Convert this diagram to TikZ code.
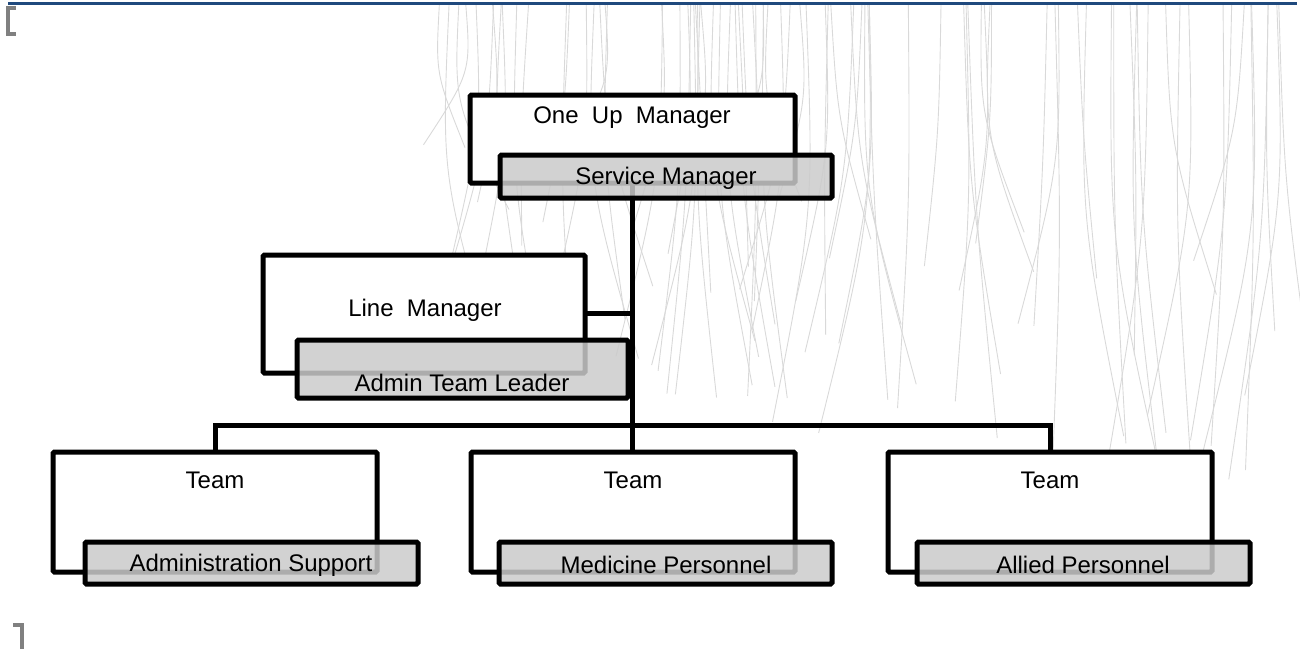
\documentclass[tikz,border=0pt]{standalone}
\usepackage{fontspec}
\setmainfont{Liberation Sans}
\definecolor{topblue}{HTML}{1F497D}
\definecolor{grayfill}{RGB}{203,203,203}
\definecolor{bracketgray}{RGB}{128,128,128}
\begin{document}
\begin{tikzpicture}[x=1pt,y=-1pt,
  hair/.style={draw=black!15, line width=0.9pt},
  whitebox/.style={draw=black, line width=5pt, fill=white, rounded corners=1.5pt, inner sep=0pt, outer sep=0pt},
  graybox/.style={draw=black, line width=5pt, fill=grayfill, fill opacity=0.85, rounded corners=1.5pt, inner sep=0pt, outer sep=0pt},
  lbl/.style={font=\fontsize{24}{28}\selectfont, text=black, inner sep=0pt},
  conn/.style={draw=black, line width=5pt}]
\useasboundingbox (0,0) rectangle (1300,648);
\begin{scope}
\clip (0,0) rectangle (1300,648);
% background hair lines
\pgfmathsetseed{12}
\foreach \i in {1,...,85}{
  \pgfmathsetmacro{\xa}{430+870*rnd}
  \pgfmathsetmacro{\len}{90+(\xa-430)/870*180+260*rnd}
  \pgfmathsetmacro{\dx}{(rnd-0.5)*110}
  \pgfmathsetmacro{\bend}{(rnd-0.5)*16}
  \draw[hair] (\xa,4) .. controls ({\xa+\bend},{\len*0.5}) .. ({\xa+\dx},\len);
}
% frame marks
\draw[topblue, line width=3pt] (8,3) -- (1297,3);
\draw[bracketgray, line width=4pt] (16,8) -- (8,8) -- (8,34) -- (16,34);
\draw[bracketgray, line width=4pt] (13,625) -- (22,625) -- (22,652);
\end{scope}

% white boxes
\node[whitebox, minimum width=325pt, minimum height=88pt] (oneup) at (632.5,139) {};
\node[whitebox, minimum width=322pt, minimum height=118pt] (linem) at (424,314) {};
\node[whitebox, minimum width=324pt, minimum height=120pt] (teamA) at (215,512) {};
\node[whitebox, minimum width=324pt, minimum height=120pt] (teamB) at (633,512) {};
\node[whitebox, minimum width=324pt, minimum height=120pt] (teamC) at (1050,512) {};

% connectors
\coordinate (busL) at (215,425);
\coordinate (busM) at (632,425);
\coordinate (busR) at (1050,425);
\coordinate (lmj) at (632,313);
\draw[conn] (oneup.south -| busM) -- (teamB.north -| busM);
\draw[conn] (linem.east |- lmj) -- (lmj);
\draw[conn] (teamA.north) -- (busL) -- (busR) -- (teamC.north);

% gray boxes
\node[graybox, minimum width=332pt, minimum height=43pt] (svc) at (666,176.5) {};
\node[graybox, minimum width=331pt, minimum height=58pt] (admin) at (462.5,369) {};
\node[graybox, minimum width=333pt, minimum height=42pt] (adms) at (251.5,563) {};
\node[graybox, minimum width=333pt, minimum height=42pt] (med) at (665.5,563) {};
\node[graybox, minimum width=333pt, minimum height=42pt] (allied) at (1083.5,563) {};

% texts
\node[lbl] (toneup) at (632,118) {One\ \ Up\ \ Manager};
\node[lbl] (tsvc) at (666,178) {Service Manager};
\node[lbl] (tlinem) at (425,310) {Line\ \ Manager};
\node[lbl] (tadmin) at (462,383) {Admin Team Leader};
\node[lbl] (tteamA) at (215,480) {Team};
\node[lbl] (tteamB) at (633,480) {Team};
\node[lbl] (tteamC) at (1050,480) {Team};
\node[lbl] (tadms) at (251,565) {Administration Support};
\node[lbl] (tmed) at (666,565) {Medicine Personnel};
\node[lbl] (tallied) at (1083,565) {Allied Personnel};
\end{tikzpicture}
\end{document}
